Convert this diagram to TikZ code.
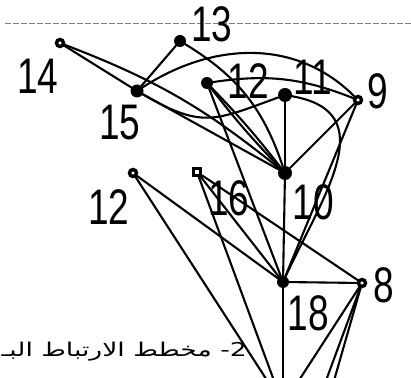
\documentclass[tikz,border=0pt]{standalone}
\usepackage{fontspec}
\newfontfamily\numfont[FakeStretch=0.74]{Liberation Sans}
\newfontfamily\arabicfont[Script=Arabic, FakeStretch=1.4]{DejaVu Sans}
\TeXXeTstate=1
\begin{document}
\begin{tikzpicture}[x=1pt, y=1pt,
  dot/.style={circle, fill=black, inner sep=0pt, minimum size=13pt},
  ring/.style={circle, draw=black, fill=white, line width=3.4pt, inner sep=0pt, minimum size=7pt},
  sqr/.style={rectangle, draw=black, fill=white, line width=3.4pt, inner sep=0pt, minimum size=6.5pt},
  lbl/.style={font=\numfont\fontsize{50}{50}\selectfont, inner sep=0pt},
  edge/.style={line width=2.1pt, line cap=round}
]
\useasboundingbox (0,0) rectangle (411,377);
\draw[gray, line width=0.8pt, dash pattern=on 6pt off 2pt] (5,354) -- (411,354);

\node[ring] (n14) at (60,334) {};
\node[dot, minimum size=12pt] (n13) at (180,336) {};
\node[dot] (n15) at (137,286) {};
\node[dot, minimum size=12pt] (n12a) at (207,294) {};
\node[dot, minimum size=14pt] (n11) at (285,282) {};
\node[ring] (n9) at (358,277) {};
\node[dot, minimum size=14pt] (n10) at (285,204) {};
\node[ring] (n12b) at (133,204) {};
\node[sqr] (n16) at (197,205) {};
\node[dot, minimum size=12pt] (n18) at (283,95) {};
\node[ring] (n8) at (362,94) {};
\coordinate (b1) at (283,-28);
\coordinate (b2) at (317,-28);
\coordinate (b3) at (327,-28);

\node[lbl] (t14) at (38,301) {14};
\node[lbl] (t13) at (212,353) {13};
\node[lbl] (t15) at (120,254) {15};
\node[lbl] (t12a) at (248,296) {12};
\node[lbl] (t11) at (313,300) {11};
\node[lbl] (t9) at (378,286) {9};
\node[lbl] (t12b) at (109,170) {12};
\node[lbl] (t16) at (229,179) {16};
\node[lbl] (t10) at (313,175) {10};
\node[lbl] (t8) at (384,92) {8};
\node[lbl] (t18) at (308,64) {18};
\node[anchor=base east, inner sep=0pt, font=\arabicfont\fontsize{19}{19}\selectfont] (cap) at (247,21)
  {\beginR 2- مخطط الارتباط البـ\endR};

\draw[edge] (n14) -- (n15);
\draw[edge] (n14) to[bend left=9] (n10);
\draw[edge] (n13) -- (n15);
\draw[edge] (n13) to[bend left=20] (n10);
\draw[edge] (n15) to[out=33, in=135] (n9);
\draw[edge] (n15) to[out=-30, in=200, looseness=1.3] (n11);
\draw[edge] (n15) -- (n10);
\draw[edge] (n12a) to[bend left=15] (n9);
\draw[edge] (n12a) to[bend left=3] (n10);
\draw[edge] (n12a) to[bend right=3] (n10);
\draw[edge] (n12a) -- (n18);
\draw[edge] (n11) -- (n10);
\draw[edge] (n11) to[out=-10, in=65, looseness=1.3] (n18);
\draw[edge] (n9) -- (n10);
\draw[edge] (n9) -- (n18);
\draw[edge] (n10) -- (n18);
\draw[edge] (n18) -- (n8);
\draw[edge] (n12b) -- (n18);
\draw[edge] (n12b) -- (b1);
\draw[edge] (n16) -- (n8);
\draw[edge] (n16) -- (n18);
\draw[edge] (n16) -- (b1);
\draw[edge] (n18) -- (b1);
\draw[edge] (n8) -- (b1);
\draw[edge] (n8) -- (b2);
\draw[edge] (n8) -- (b3);
\end{tikzpicture}
\end{document}
